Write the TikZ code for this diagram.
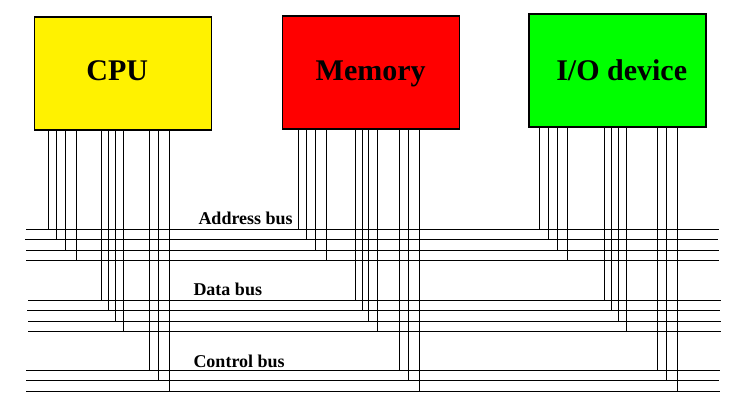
\documentclass[tikz,border=0pt]{standalone}
\usepackage{fontspec}
\setmainfont{Liberation Serif}
\usepackage{xcolor}
\usepackage{tikz}

\begin{document}
\begin{tikzpicture}[x=1pt,y=-1pt,
  unit/.style={draw, line width=1.6pt, minimum width=177pt, minimum height=113pt, inner sep=0pt},
  unitname/.style={anchor=base, font=\bfseries\fontsize{30}{36}\selectfont},
  busname/.style={anchor=base west, inner sep=0pt, font=\bfseries\fontsize{18}{22}\selectfont},
  wire/.style={line width=1.4pt}]
\useasboundingbox (0,0) rectangle (742,403);

\node[unit, fill=yellow] (cpu) at (122.8,73.6) {};
\node[unit, fill=red] (mem) at (370.8,72.6) {};
\node[unit, fill=green] (io) at (617.7,70.8) {};
\node[unitname] (cpuname) at (117.2,81) {CPU};
\node[unitname] (memname) at (370.7,81) {Memory};
\node[unitname] (ioname) at (621.7,81) {I/O device};

\foreach \n/\y/\xa/\xb in {a1/229.5/26/719, a2/239.5/25/718, a3/250.5/26/719, a4/260.5/26/719,
  d1/300.5/28/721, d2/310.5/27/720, d3/321.5/28/721, d4/331.5/28/721,
  c1/370.5/26/720, c2/380.5/26/719, c3/391.5/26/720}
{
  \coordinate (\n l) at (\xa,\y);
  \coordinate (\n r) at (\xb,\y);
  \draw[wire] (\n l) -- (\n r);
}

\node[busname] (addrname) at (198.3,225) {Address bus};
\node[busname] (dataname) at (193.3,296) {Data bus};
\node[busname] (ctrlname) at (193.3,368) {Control bus};

\foreach \x/\b in {48.5/a1, 56.5/a2, 65.5/a3, 76.5/a4, 101.5/d1, 108.5/d2, 115.5/d3, 123.5/d4,
  149.5/c1, 158.5/c2, 169.5/c3}
  \draw[wire] (cpu.south -| \x,0) -- (\b l -| \x,0);
\foreach \x/\b in {298.5/a1, 306.5/a2, 315.5/a3, 326.5/a4, 355.5/d1, 362.5/d2, 368.5/d3, 377.5/d4,
  399.5/c1, 408.5/c2, 419.5/c3}
  \draw[wire] (mem.south -| \x,0) -- (\b l -| \x,0);
\foreach \x/\b in {539.5/a1, 548.5/a2, 557.5/a3, 567.5/a4, 604.5/d1, 611.5/d2, 618.5/d3, 626.5/d4,
  657.5/c1, 666.5/c2, 677.5/c3}
  \draw[wire] (io.south -| \x,0) -- (\b l -| \x,0);
\end{tikzpicture}
\end{document}
